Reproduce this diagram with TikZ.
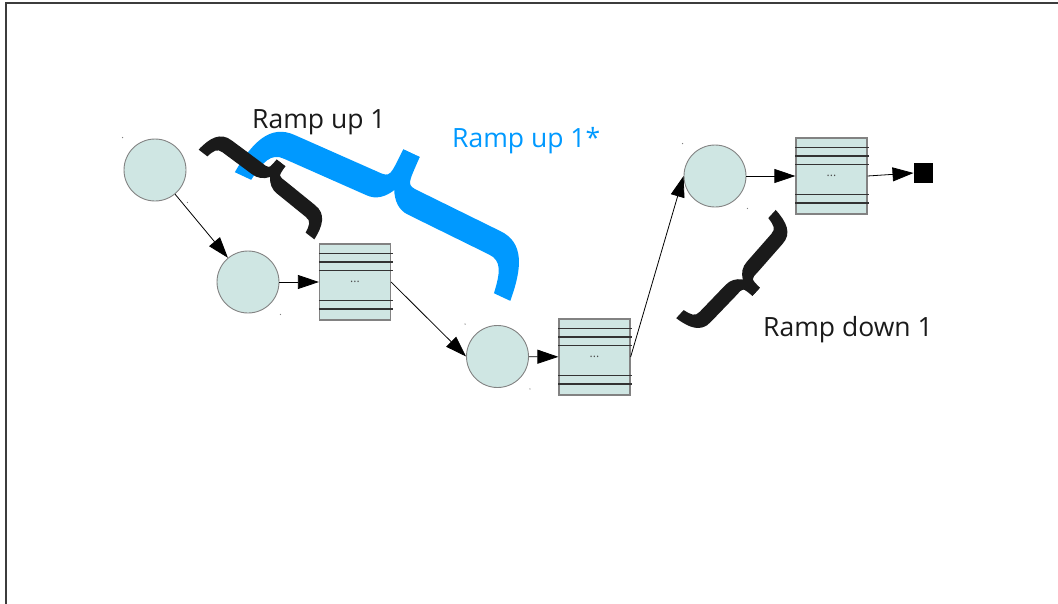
\documentclass[tikz,border=0pt]{standalone}
\usepackage{fontspec}
\setmainfont{Open Sans}
\usetikzlibrary{arrows.meta}

\definecolor{nodefill}{RGB}{207,230,227}
\definecolor{nodeline}{RGB}{130,130,130}
\definecolor{rampblue}{RGB}{0,153,255}
\definecolor{inkblack}{RGB}{26,26,26}
\definecolor{frameline}{RGB}{60,60,60}

\tikzset{
  state/.style={circle, draw=nodeline, fill=nodefill, line width=0.9pt,
    minimum size=62pt, inner sep=0pt},
  queue/.style={rectangle, draw=nodeline, fill=nodefill, line width=1.2pt,
    minimum width=71pt, minimum height=76pt, inner sep=0pt,
    font=\fontsize{12}{12}\selectfont, text=black!70},
  sink/.style={rectangle, fill=black, minimum size=19.5pt, inner sep=0pt},
  qline/.style={draw=black!80, line width=1.3pt},
  flow/.style={draw=black, line width=0.8pt, -{Triangle[length=21pt,width=14pt]}},
  ramptext/.style={anchor=base west, inner sep=0pt, font=\fontsize{26.5}{30}\selectfont},
  bluebrace/.style={fill=rampblue},
  blackbrace/.style={fill=inkblack},
  framestroke/.style={draw=frameline, line width=1.8pt},
  cornerdot/.style={fill=nodeline},
}

% One half of a curly brace as a filled band, in a local frame:
% x runs from the end (0) towards the cusp (L/2), the cusp lies at y = -A.
% #1 style, #2 L, #3 A, #4 hook width, #5 width of the curve into the cusp,
% #6 band width at the end and at the cusp, #7 band width along the arm
\newcommand\bracehalf[7]{%
  \fill[#1] ({-#6/2},0)
    .. controls ({0.1*#4-#6/2},{-(0.3*#3+#7/4)}) and ({0.3*#4-#7/4},{-(0.5*#3+#7/2)})
    .. ({#4},{-(0.5*#3+#7/2)})
    -- ({#2/2-#5},{-(0.52*#3+#7/2)})
    .. controls ({#2/2-0.35*#5},{-(0.52*#3+#7/2)}) and ({#2/2-0.05*#5-#6/2},{-0.68*#3})
    .. ({#2/2-#6/2},{-#3})
    -- ({#2/2+#6/2},{-#3})
    .. controls ({#2/2-0.05*#5+#6/2},{-0.68*#3}) and ({#2/2-0.35*#5+#7/4},{-(0.52*#3-#7/2)})
    .. ({#2/2-#5},{-(0.52*#3-#7/2)})
    -- ({#4},{-(0.5*#3-#7/2)})
    .. controls ({0.3*#4+#7/4},{-(0.5*#3-#7/2)}) and ({0.1*#4+#6/2},{-(0.3*#3-#7/4)})
    .. ({#6/2},0)
    -- cycle;}

% A whole brace: start point, angle, length, amplitude, hook width,
% cusp-curve width, end width, arm width
\newcommand\curlybrace[9]{%
  \begin{scope}[shift={#2}, rotate=#3]
    \bracehalf{#1}{#4}{#5}{#6}{#7}{#8}{#9}
    \begin{scope}[shift={(#4,0)}, xscale=-1]
      \bracehalf{#1}{#4}{#5}{#6}{#7}{#8}{#9}
    \end{scope}
  \end{scope}}

\begin{document}
\begin{tikzpicture}[x=1pt, y=-1pt]
\useasboundingbox (0,0) rectangle (1058,603);

% page frame
\draw[framestroke] (6,604) -- (6,3.3) -- (1059,3.3);

% states and queues
\node[state] (a) at (155,170) {};
\node[state] (b) at (248,282) {};
\node[queue] (q1) at (355,282) {...};
\node[state] (c) at (497.5,356.5) {};
\node[queue] (q2) at (594.5,357) {...};
\node[state] (d) at (715,176) {};
\node[queue] (q3) at (831.5,176) {...};
\node[sink] (e) at (923.5,173) {};

% queue slots
\foreach \q in {q1,q2,q3}
  \foreach \dy in {10,18.5,27,57,65.5}
    \draw[qline] ([yshift=-\dy pt]\q.north west) -- ([yshift=-\dy pt, xshift=1.5pt]\q.north east);

% handle marks at the corners of the states
\foreach \n in {a,b,c,d} {
  \fill[cornerdot] ([shift={(-1,-1)}]\n.west |- \n.north) circle (0.7);
  \fill[cornerdot] ([shift={(1,1)}]\n.east |- \n.south) circle (0.7);
}

% flow
\draw[flow] (a) -- (b);
\draw[flow] (b) -- (q1);
\draw[flow] (q1.east) -- (c.west);
\draw[flow] (c) -- (q2);
\draw[flow] (q2.east) -- (d.west);
\draw[flow] (d) -- (q3);
\draw[flow] (q3.east) -- (e.west);

% ramp braces
\curlybrace{bluebrace}{(243,176)}{-25.04}{286}{92}{30}{23}{18}{26}
\curlybrace{blackbrace}{(203,153)}{-37.8}{135.4}{40}{15}{16}{11}{15}
\curlybrace{blackbrace}{(772,214)}{-132.6}{136}{41}{15}{16}{11}{15}

% labels
\node[ramptext, text=inkblack] (t1) at (252,128) {Ramp up 1};
\node[ramptext, text=rampblue] (t2) at (452,147) {Ramp up 1*};
\node[ramptext, text=inkblack] (t3) at (763,336) {Ramp down 1};
\end{tikzpicture}
\end{document}
